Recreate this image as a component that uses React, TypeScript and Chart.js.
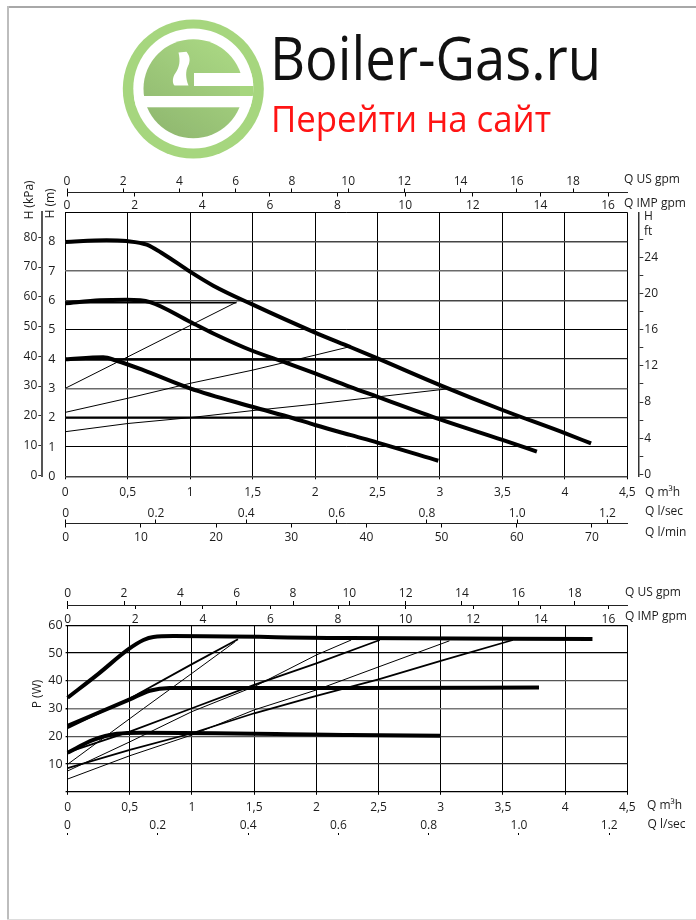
import React, { useEffect, useRef } from "react";
import { Chart, registerables } from "chart.js";

Chart.register(...registerables);

const FONT = "'Open Sans', 'Noto Sans', sans-serif";
const INK = "#1c1c1c";

// Shared tick values and labels
const qTicks = [0, 0.5, 1, 1.5, 2, 2.5, 3, 3.5, 4, 4.5];
const qLabels = ["0", "0,5", "1", "1,5", "2", "2,5", "3", "3,5", "4", "4,5"];
const usTicks = [0, 2, 4, 6, 8, 10, 12, 14, 16, 18];
const impTicks = [0, 2, 4, 6, 8, 10, 12, 14, 16];
const lsecTicks = [0, 0.2, 0.4, 0.6, 0.8, 1, 1.2];
const lsecLabels = ["0", "0.2", "0.4", "0.6", "0.8", "1.0", "1.2"];
const lminTicks = [0, 10, 20, 30, 40, 50, 60, 70];
const kpaTicks = [0, 10, 20, 30, 40, 50, 60, 70, 80];
const mTicks = [0, 1, 2, 3, 4, 5, 6, 7, 8, 9];
const mLabels = ["0", "1", "2", "3", "4", "5", "6", "7", "8", ""];
const ftTicks = [0, 2, 4, 6, 8, 10, 12, 14, 16, 18, 20, 22, 24, 26];
const ftLabels = ["0", "", "4", "", "8", "", "12", "", "16", "", "20", "", "24", ""];
const wTicks = [10, 20, 30, 40, 50, 60];

// Head chart: pump curves
const headHighQ = [0, 0.33, 0.49, 0.652, 0.785, 0.998, 1.185, 1.497, 2.0, 2.28, 2.5, 3.0, 3.5, 4.0, 4.21];
const headHighH = [7.99, 8.05, 8.02, 7.9, 7.58, 6.98, 6.5, 5.86, 4.9, 4.41, 4.02, 3.11, 2.26, 1.47, 1.12];
const headMidQ = [0, 0.278, 0.49, 0.678, 0.998, 1.185, 1.497, 1.77, 2.0, 2.28, 2.5, 3.0, 3.5, 3.776];
const headMidH = [5.9, 6.0, 6.02, 5.94, 5.27, 4.87, 4.28, 3.87, 3.51, 3.05, 2.71, 1.94, 1.24, 0.84];
const headLowQ = [0, 0.304, 0.41, 0.625, 0.998, 1.497, 1.825, 2.0, 2.28, 2.5, 2.987];
const headLowH = [3.99, 4.06, 3.94, 3.62, 3.0, 2.37, 1.98, 1.75, 1.41, 1.15, 0.53];
// Head chart: constant-pressure and proportional lines
const flat6Q = [0, 1.37];
const flat6H = [5.92, 5.92];
const flat4Q = [0, 2.5];
const flat4H = [3.98, 3.98];
const flat2Q = [0, 3.63];
const flat2H = [2.0, 2.0];
const prop1Q = [0, 1.372];
const prop1H = [3.0, 5.94];
const prop2Q = [0, 0.5, 1, 1.5, 2, 2.28];
const prop2H = [2.18, 2.66, 3.17, 3.62, 4.13, 4.42];
const prop3Q = [0, 0.5, 1, 1.5, 2, 2.28, 3.06];
const prop3H = [1.52, 1.8, 2.0, 2.24, 2.46, 2.6, 2.98];

// Power chart: pump curves
const powerHighQ = [0, 0.25, 0.49, 0.61, 0.69, 0.85, 2.27, 4.22];
const powerHighP = [33.9, 42.6, 51.4, 54.7, 55.8, 56.1, 55.4, 55.1];
const powerMidQ = [0, 0.5, 0.66, 0.82, 2.27, 3.79];
const powerMidP = [23.8, 33.3, 36.4, 37.4, 37.4, 37.6];
const powerLowQ = [0, 0.207, 0.395, 0.6, 2.27, 3.0];
const powerLowP = [14.1, 18.7, 20.9, 21.3, 20.5, 20.2];
// Power chart: control-mode lines
const ctrlAQ = [0, 0.5, 1, 1.37];
const ctrlAP = [22.9, 33.6, 46, 55];
const ctrlBQ = [0, 0.61, 1, 1.345];
const ctrlBP = [9.9, 30, 42.7, 54];
const ctrlCQ = [0, 0.5, 1, 1.5, 2, 2.51];
const ctrlCP = [14.2, 21.7, 30.1, 38.5, 46.3, 54.7];
const ctrlDQ = [0, 0.5, 1, 1.5, 2, 2.28];
const ctrlDP = [7.5, 18, 28.9, 37.9, 49.3, 54.7];
const ctrlEQ = [0, 0.5, 1, 1.5, 2, 2.5, 3, 3.58];
const ctrlEP = [8.5, 15.1, 21.1, 28.3, 34.6, 40.5, 47.2, 54.7];
const ctrlFQ = [0, 0.5, 1, 1.5, 2, 2.5, 3.07];
const ctrlFP = [4.6, 13, 20.5, 29.5, 36.7, 45, 54.4];

const zip = (xs: number[], ys: number[]) => xs.map((x, i) => ({ x, y: ys[i] }));
const line = (xs: number[], ys: number[], w: number, curved = false) => ({
  type: "line" as const,
  data: zip(xs, ys),
  borderColor: "#000",
  borderWidth: w,
  pointRadius: 0,
  borderCapStyle: "butt" as const,
  cubicInterpolationMode: curved ? ("monotone" as const) : ("default" as const),
  tension: 0,
  parsing: false as const,
  clip: false as const,
});

type Note = { text: string; x: number; y: number; rot?: boolean };
const font = (size: number) => ({ family: FONT, size });

const hAxis = (pos: string, min: number, max: number, vals: number[], labels: string[] | null, size: number, o: any = {}) => ({
  type: "linear",
  position: pos,
  min,
  max,
  afterBuildTicks: (s: any) => { s.ticks = vals.map((value) => ({ value })); },
  afterFit: (s: any) => { s.height = 0; },
  grid: { drawOnChartArea: false, tickLength: o.tick ?? 4, tickColor: "#000", tickWidth: 1 },
  border: { display: o.border ?? true, color: "#222", width: 1 },
  ticks: {
    font: font(size), color: INK, autoSkip: false, maxRotation: 0, padding: o.pad ?? 2,
    callback: (v: number, i: number) => (labels ? labels[i] : String(v)),
  },
});
const vAxis = (pos: string, min: number, max: number, vals: number[], labels: string[] | null, size: number, o: any = {}) => ({
  type: "linear",
  position: pos,
  min,
  max,
  afterBuildTicks: (s: any) => { s.ticks = vals.map((value) => ({ value })); },
  afterFit: (s: any) => { s.width = 0; },
  grid: { drawOnChartArea: false, tickLength: o.tick ?? 4, tickColor: "#333", tickWidth: 1 },
  border: { color: o.color ?? "#555", width: o.width ?? 2 },
  ticks: {
    font: font(size), color: INK, autoSkip: false, padding: o.pad ?? 2,
    callback: (v: number, i: number) => (labels ? labels[i] : String(v)),
  },
});

const makePlugin = (place: Record<string, any>, notes: Note[], size: number) => ({
  id: "placeAxes",
  afterLayout(chart: any) {
    Object.entries(place).forEach(([id, p]) => {
      const s = chart.scales[id];
      Object.assign(s, p);
      if (s.axis === "x") s.width = s.right - s.left;
      s.configure();
    });
  },
  afterDraw(chart: any) {
    const c = chart.ctx;
    c.save();
    c.fillStyle = INK;
    c.font = `${size}px ${FONT}`;
    c.textBaseline = "middle";
    notes.forEach((n) => {
      c.save();
      c.translate(n.x, n.y);
      if (n.rot) { c.rotate(-Math.PI / 2); c.textAlign = "center"; }
      c.fillText(n.text, 0, 0);
      c.restore();
    });
    c.restore();
  },
});

function useChart(ref: React.RefObject<HTMLCanvasElement | null>, build: () => any) {
  useEffect(() => {
    const chart = new Chart(ref.current as HTMLCanvasElement, build());
    return () => chart.destroy();
  }, []);
}

const HEAD_TOP = 170;
const HEAD_H = 380;
const POWER_TOP = 580;
const POWER_H = 270;
const ROOM = 40; // space each axis box leaves for its labels

const headConfig = () => {
  const T = HEAD_TOP;
  const gridShade = ["#444", "#000", "#333", "#6a6a6a", "#222", "#000", "#444", "#6a6a6a", "#444", "#000"];
  const gridW = [1.5, 1, 1.2, 1.5, 1.2, 1, 1.4, 1.5, 1.4, 1];
  const notes: Note[] = [
    { text: "Q US gpm", x: 624, y: 180 - T },
    { text: "Q IMP gpm", x: 624, y: 204 - T },
    { text: "Q m³h", x: 645, y: 493 - T },
    { text: "Q l/sec", x: 645, y: 512 - T },
    { text: "Q l/min", x: 645, y: 533 - T },
    { text: "H", x: 644, y: 217 - T },
    { text: "ft", x: 644, y: 232 - T },
    { text: "H (kPa)", x: 30, y: 200 - T, rot: true },
    { text: "H (m)", x: 51, y: 203.5 - T, rot: true },
  ];
  const place = {
    x: { top: 476.3 - T, bottom: 476.3 - T + ROOM },
    y: { right: 65.3, left: 65.3 - ROOM },
    xUS: { bottom: 192.5 - T, top: 0, left: 67, right: 627.3 },
    xIMP: { top: 192.5 - T, bottom: 192.5 - T + ROOM, left: 67, right: 627.3 },
    xLsec: { bottom: 523.5 - T, top: 523.5 - T - ROOM, left: 65.7, right: 627.3 },
    xLmin: { top: 523.5 - T, bottom: 523.5 - T + ROOM, left: 65.7, right: 627.3 },
    yKpa: { right: 42.3, left: 0 },
    yFt: { left: 638.3, right: 696 },
  };
  return {
    type: "line",
    data: {
      datasets: [
        line(flat6Q, flat6H, 1.5),
        line(flat4Q, flat4H, 2.2),
        line(flat2Q, flat2H, 2.2),
        line(prop1Q, prop1H, 1),
        line(prop2Q, prop2H, 1),
        line(prop3Q, prop3H, 1),
        line(headHighQ, headHighH, 4, true),
        line(headMidQ, headMidH, 4, true),
        line(headLowQ, headLowH, 4, true),
      ],
    },
    options: {
      responsive: false,
      animation: false,
      events: [],
      layout: { padding: { left: 65.3, right: 696 - 627.3, top: 212.3 - T, bottom: HEAD_H - (476.3 - T) } },
      plugins: { legend: { display: false }, tooltip: { enabled: false } },
      scales: {
        x: {
          ...hAxis("bottom", 0, 4.5, qTicks, qLabels, 12, { tick: 3, pad: 6.5, border: false }),
          grid: { drawOnChartArea: true, color: "#000", lineWidth: 1, tickLength: 3 },
        },
        y: {
          ...vAxis("left", 0, 9, mTicks, mLabels, 12.5, { tick: 0, pad: 10 }),
          grid: {
            drawOnChartArea: true, drawTicks: false,
            color: (c: any) => gridShade[c.index], lineWidth: (c: any) => gridW[c.index],
          },
          border: { display: false },
        },
        xUS: hAxis("top", 0, 19.93, usTicks, null, 12, { tick: 4, pad: 0 }),
        xIMP: hAxis("bottom", 0, 16.57, impTicks, null, 12, { tick: 4, pad: 2 }),
        xLsec: hAxis("top", 0, 1.244, lsecTicks, lsecLabels, 12, { tick: 4, pad: -1 }),
        xLmin: hAxis("bottom", 0, 74.7, lminTicks, null, 12, { tick: 4, pad: 3 }),
        yKpa: vAxis("left", -0.34, 88.4, kpaTicks, null, 12, { tick: 4, pad: 1 }),
        yFt: vAxis("right", -0.22, 29.0, ftTicks, ftLabels, 12, { tick: 5, pad: 1, width: 1.5, color: "#333" }),
      },
    },
    plugins: [makePlugin(place, notes, 12)],
  };
};

const powerConfig = () => {
  const T = POWER_TOP;
  const gridShade: Record<number, string> = { 0: "#000", 1: "#000", 2: "#222", 3: "#555", 4: "#777", 5: "#555", 6: "#000" };
  const notes: Note[] = [
    { text: "Q US gpm", x: 625, y: 593 - T },
    { text: "Q IMP gpm", x: 625, y: 617 - T },
    { text: "Q m³h", x: 647, y: 806 - T },
    { text: "Q l/sec", x: 647.5, y: 825 - T },
    { text: "P (W)", x: 38, y: 694 - T, rot: true },
  ];
  const place = {
    x: { top: 791.8 - T, bottom: 791.8 - T + ROOM },
    y: { right: 67.6, left: 67.6 - ROOM },
    xUS: { bottom: 605 - T, top: 0, left: 67.7, right: 627.3 },
    xIMP: { top: 605 - T, bottom: 605 - T + ROOM, left: 67.7, right: 627.3 },
    xLsec: { bottom: 834.5 - T, top: 834.5 - T - ROOM, left: 67.5, right: 627.3 },
  };
  return {
    type: "line",
    data: {
      datasets: [
        line(ctrlAQ, ctrlAP, 1.8),
        line(ctrlBQ, ctrlBP, 1),
        line(ctrlCQ, ctrlCP, 1.8),
        line(ctrlDQ, ctrlDP, 1),
        line(ctrlEQ, ctrlEP, 1.8),
        line(ctrlFQ, ctrlFP, 1),
        line(powerHighQ, powerHighP, 4, true),
        line(powerMidQ, powerMidP, 4, true),
        line(powerLowQ, powerLowP, 4, true),
      ],
    },
    options: {
      responsive: false,
      animation: false,
      events: [],
      layout: { padding: { left: 67.6, right: 696 - 627.3, top: 625.3 - T, bottom: POWER_H - (791.8 - T) } },
      plugins: { legend: { display: false }, tooltip: { enabled: false } },
      scales: {
        x: {
          ...hAxis("bottom", 0, 4.5, qTicks, qLabels, 12, { tick: 3, pad: 6, border: false }),
          grid: { drawOnChartArea: true, color: "#000", lineWidth: 1, tickLength: 3 },
        },
        y: {
          ...vAxis("left", 0, 60, wTicks, null, 12.5, { tick: 2, pad: 3 }),
          grid: {
            drawOnChartArea: true, tickLength: 2, tickColor: "#000",
            color: (c: any) => gridShade[c.index + 1] ?? "#000", lineWidth: (c: any) => (c.index === 3 ? 1.6 : 1.2),
          },
          border: { color: "#000", width: 1 },
          afterBuildTicks: (s: any) => { s.ticks = [0, ...wTicks].map((value) => ({ value })); },
          ticks: {
            font: font(12.5), color: INK, autoSkip: false, padding: 3,
            callback: (v: number) => (v === 0 ? "" : String(v)),
          },
        },
        xUS: hAxis("top", 0, 19.87, usTicks, null, 12, { tick: 4, pad: 0 }),
        xIMP: hAxis("bottom", 0, 16.56, impTicks, null, 12, { tick: 4, pad: 3 }),
        xLsec: hAxis("top", 0, 1.24, lsecTicks, lsecLabels, 12, { tick: 1.5, pad: 0, border: false }),
      },
    },
    plugins: [makePlugin(place, notes, 12)],
  };
};

function Logo() {
  const bar = { fill: "#fff" };
  return (
    <svg width={696} height={170} style={{ position: "absolute", left: 0, top: 0 }}>
      <defs>
        <linearGradient id="disc" x1="0.85" y1="0" x2="0.15" y2="1">
          <stop offset="0" stopColor="#abd984" />
          <stop offset="1" stopColor="#8fb76f" />
        </linearGradient>
        <clipPath id="whiteDisc"><ellipse cx={193.3} cy={88.5} rx={60} ry={60} /></clipPath>
        <filter id="soft"><feGaussianBlur stdDeviation="0.7" /></filter>
      </defs>
      <g filter="url(#soft)">
        <ellipse cx={193.3} cy={89} rx={70.5} ry={69.5} fill="#a6d67e" />
        <ellipse cx={193.3} cy={88.5} rx={60} ry={60} fill="#fff" />
        <ellipse cx={193.3} cy={88.8} rx={49.8} ry={49.5} fill="url(#disc)" />
        <g clipPath="url(#whiteDisc)">
          <rect x={133} y={96} width={125} height={11.3} {...bar} />
          <rect x={194} y={73} width={60} height={13} {...bar} />
          <rect x={240} y={86} width={16} height={10} fill="#a6d67e" />
        </g>
        <path
          d="M178.5 52.5 L186.5 51.7 C190 56 190.5 61 188 66 C185.5 71 185.5 78 188.5 85.5 L174.5 85.5 C172 83 172.5 77 175.5 73 C179.5 67 180.5 61 178.5 52.5 Z"
          fill="#fff"
        />
      </g>
      <g style={{ filter: "blur(0.6px)" }}>
        <text x={270} y={80} fontFamily={FONT} fontSize={60} fill="#111" textLength={331} lengthAdjust="spacingAndGlyphs">Boiler-Gas.ru</text>
        <text x={271} y={132} fontFamily={FONT} fontSize={37} fill="#ff1414" textLength={280} lengthAdjust="spacingAndGlyphs">Перейти на сайт</text>
      </g>
    </svg>
  );
}

export default function App() {
  const headRef = useRef<HTMLCanvasElement>(null);
  const powerRef = useRef<HTMLCanvasElement>(null);
  useChart(headRef, headConfig);
  useChart(powerRef, powerConfig);
  return (
    <div style={{ position: "absolute", left: 0, top: 0, width: 696, height: 920, overflow: "hidden", background: "#fff" }}>
      <div style={{ position: "absolute", left: 7, top: 6, width: 689, height: 1.5, background: "#a8a8a8" }} />
      <div style={{ position: "absolute", left: 7, top: 6, width: 1.5, height: 914, background: "#bdbdbd" }} />
      <div style={{ position: "absolute", left: 7, top: 919, width: 689, height: 1, background: "#ddd" }} />
      <Logo />
      <canvas ref={headRef} width={696} height={HEAD_H} style={{ position: "absolute", left: 0, top: HEAD_TOP }} />
      <canvas ref={powerRef} width={696} height={POWER_H} style={{ position: "absolute", left: 0, top: POWER_TOP }} />
    </div>
  );
}
